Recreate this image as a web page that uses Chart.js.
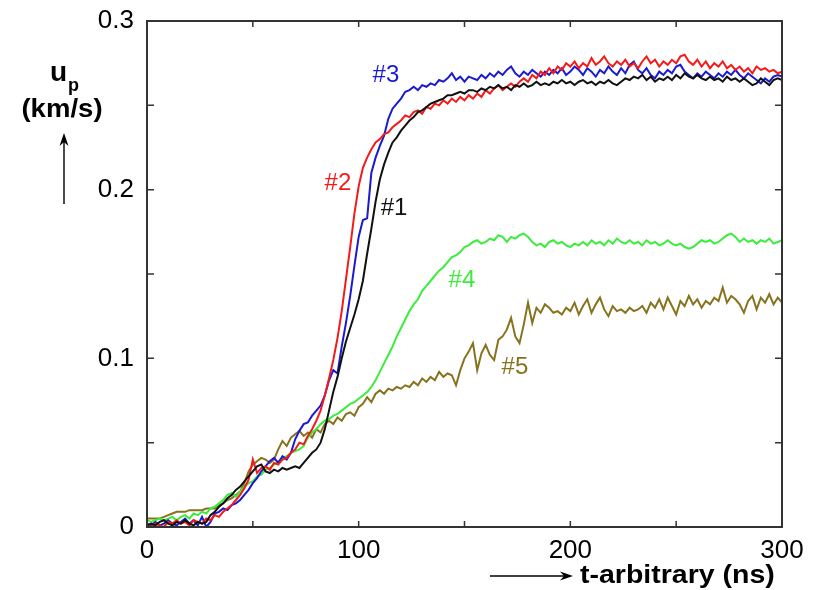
<!DOCTYPE html>
<html>
<head>
<meta charset="utf-8">
<script src="https://cdn.jsdelivr.net/npm/chart.js@4"></script>
<style>
  html, body { margin: 0; padding: 0; background: #fff; }
  #wrap { width: 816px; height: 590px; position: relative; }
</style>
</head>
<body>
<div id="wrap"><canvas id="chart" width="816" height="590"></canvas></div>
<script>
// sample times (ns), one sample every 2 ns
const times = Array.from({ length: 151 }, (_, i) => i * 2);

const xTicks = [0, 100, 200, 300];
const yTicks = [0, 0.1, 0.2, 0.3];

// #1 black
const shot1 = [
  0.001, 0.002, 0.001, 0.003, 0.004, 0.002, 0.001, 0.003, 0.002, 0.004, 0.002, 0.001, 0.003, 0.002, 0.003,
  0.007, 0.009, 0.012, 0.014, 0.017, 0.019, 0.022, 0.024, 0.027, 0.030, 0.033, 0.036, 0.037, 0.033, 0.032,
  0.034, 0.033, 0.035, 0.034, 0.035, 0.036, 0.035, 0.038, 0.041, 0.044, 0.046, 0.050, 0.058, 0.069, 0.080,
  0.089, 0.100, 0.110, 0.118, 0.126, 0.135, 0.146, 0.162, 0.177, 0.193, 0.206, 0.215, 0.222, 0.228, 0.231,
  0.235, 0.238, 0.241, 0.243, 0.246, 0.247, 0.249, 0.251, 0.252, 0.253, 0.254, 0.256, 0.256, 0.257, 0.258,
  0.257, 0.259, 0.259, 0.258, 0.260, 0.259, 0.261, 0.260, 0.262, 0.260, 0.261, 0.259, 0.262, 0.261, 0.263,
  0.261, 0.262, 0.264, 0.262, 0.263, 0.262, 0.264, 0.263, 0.265, 0.263, 0.264, 0.262, 0.264, 0.265, 0.263,
  0.264, 0.262, 0.264, 0.263, 0.265, 0.263, 0.262, 0.264, 0.266, 0.265, 0.267, 0.266, 0.268, 0.265, 0.267,
  0.264, 0.266, 0.265, 0.267, 0.265, 0.268, 0.266, 0.269, 0.267, 0.266, 0.268, 0.266, 0.265, 0.267, 0.265,
  0.266, 0.264, 0.267, 0.265, 0.266, 0.264, 0.266, 0.264, 0.262, 0.263, 0.266, 0.264, 0.262, 0.265, 0.266,
  0.265
];

// #2 red
const shot2 = [
  0.001, 0.000, 0.002, 0.001, 0.000, 0.003, 0.002, 0.004, 0.002, 0.003, 0.001, 0.004, 0.003, 0.002, 0.005,
  0.004, 0.007, 0.006, 0.009, 0.011, 0.013, 0.016, 0.019, 0.023, 0.028, 0.040, 0.032, 0.035, 0.036, 0.034,
  0.038, 0.037, 0.040, 0.041, 0.044, 0.046, 0.050, 0.049, 0.054, 0.058, 0.063, 0.069, 0.078, 0.088, 0.099,
  0.112, 0.128, 0.147, 0.166, 0.186, 0.202, 0.213, 0.219, 0.224, 0.228, 0.230, 0.233, 0.234, 0.237, 0.239,
  0.241, 0.244, 0.243, 0.246, 0.247, 0.245, 0.249, 0.248, 0.251, 0.250, 0.253, 0.251, 0.254, 0.252, 0.255,
  0.253, 0.256, 0.254, 0.257, 0.255, 0.259, 0.257, 0.260, 0.262, 0.259, 0.261, 0.263, 0.261, 0.264, 0.266,
  0.264, 0.268, 0.266, 0.270, 0.268, 0.272, 0.269, 0.273, 0.271, 0.275, 0.273, 0.276, 0.272, 0.275, 0.273,
  0.278, 0.274, 0.276, 0.279, 0.275, 0.273, 0.276, 0.274, 0.277, 0.273, 0.275, 0.272, 0.276, 0.279, 0.275,
  0.277, 0.273, 0.276, 0.274, 0.277, 0.275, 0.279, 0.280, 0.276, 0.274, 0.277, 0.273, 0.276, 0.272, 0.275,
  0.273, 0.276, 0.272, 0.274, 0.271, 0.273, 0.270, 0.272, 0.269, 0.273, 0.271, 0.272, 0.270, 0.271, 0.269,
  0.270
];

// #3 blue
const shot3 = [
  0.002, 0.001, 0.003, 0.001, 0.002, 0.004, 0.002, 0.001, 0.003, 0.005, 0.002, 0.004, 0.001, 0.006, 0.000,
  0.003, 0.008, 0.009, 0.011, 0.010, 0.013, 0.014, 0.016, 0.019, 0.022, 0.026, 0.029, 0.033, 0.036, 0.039,
  0.041, 0.038, 0.042, 0.040, 0.044, 0.052, 0.057, 0.061, 0.062, 0.066, 0.069, 0.072, 0.078, 0.087, 0.093,
  0.091, 0.107, 0.121, 0.137, 0.155, 0.172, 0.182, 0.183, 0.210, 0.219, 0.226, 0.232, 0.242, 0.248, 0.251,
  0.254, 0.258, 0.259, 0.261, 0.259, 0.262, 0.261, 0.263, 0.262, 0.265, 0.264, 0.266, 0.269, 0.265, 0.267,
  0.264, 0.267, 0.266, 0.265, 0.268, 0.266, 0.269, 0.267, 0.270, 0.268, 0.271, 0.273, 0.269, 0.267, 0.270,
  0.268, 0.271, 0.269, 0.267, 0.270, 0.268, 0.271, 0.269, 0.272, 0.268, 0.270, 0.273, 0.271, 0.268, 0.272,
  0.270, 0.267, 0.271, 0.269, 0.273, 0.270, 0.268, 0.272, 0.269, 0.274, 0.276, 0.271, 0.269, 0.272, 0.268,
  0.266, 0.270, 0.268, 0.271, 0.269, 0.273, 0.274, 0.270, 0.268, 0.266, 0.269, 0.267, 0.270, 0.268, 0.266,
  0.269, 0.267, 0.270, 0.268, 0.271, 0.268, 0.266, 0.269, 0.267, 0.265, 0.263, 0.266, 0.264, 0.267, 0.268,
  0.267
];

// #4 green
const shot4 = [
  0.004, 0.003, 0.004, 0.005, 0.004, 0.005, 0.006, 0.004, 0.006, 0.007, 0.005, 0.008, 0.007, 0.009, 0.008,
  0.011, 0.012, 0.014, 0.016, 0.019, 0.020, 0.018, 0.021, 0.024, 0.026, 0.027, 0.030, 0.031, 0.034, 0.035,
  0.037, 0.039, 0.041, 0.042, 0.044, 0.045, 0.046, 0.048, 0.053, 0.056, 0.058, 0.061, 0.063, 0.064, 0.066,
  0.067, 0.069, 0.071, 0.073, 0.074, 0.076, 0.078, 0.080, 0.083, 0.087, 0.092, 0.097, 0.102, 0.107, 0.113,
  0.118, 0.123, 0.128, 0.132, 0.135, 0.140, 0.143, 0.146, 0.149, 0.152, 0.154, 0.157, 0.160, 0.161, 0.163,
  0.166, 0.167, 0.169, 0.170, 0.168, 0.169, 0.171, 0.170, 0.173, 0.172, 0.169, 0.172, 0.171, 0.173, 0.174,
  0.172, 0.169, 0.167, 0.168, 0.166, 0.169, 0.170, 0.168, 0.169, 0.167, 0.166, 0.168, 0.167, 0.169, 0.167,
  0.170, 0.168, 0.169, 0.167, 0.170, 0.168, 0.171, 0.169, 0.168, 0.170, 0.168, 0.169, 0.167, 0.170, 0.168,
  0.169, 0.167, 0.168, 0.170, 0.168, 0.167, 0.168, 0.166, 0.165, 0.166, 0.168, 0.170, 0.169, 0.170, 0.168,
  0.169, 0.171, 0.173, 0.174, 0.172, 0.169, 0.171, 0.169, 0.170, 0.168, 0.170, 0.169, 0.171, 0.168, 0.169,
  0.170
];

// #5 olive
const shot5 = [
  0.005, 0.005, 0.005, 0.005, 0.006, 0.007, 0.008, 0.009, 0.009, 0.009, 0.010, 0.010, 0.010, 0.010, 0.011,
  0.011, 0.011, 0.013, 0.014, 0.016, 0.017, 0.019, 0.021, 0.026, 0.033, 0.037, 0.039, 0.041, 0.040, 0.038,
  0.040, 0.046, 0.051, 0.048, 0.053, 0.055, 0.057, 0.054, 0.056, 0.053, 0.058, 0.056, 0.061, 0.063, 0.061,
  0.065, 0.063, 0.067, 0.068, 0.066, 0.071, 0.073, 0.077, 0.074, 0.079, 0.081, 0.079, 0.082, 0.081, 0.083,
  0.082, 0.084, 0.083, 0.086, 0.084, 0.088, 0.086, 0.089, 0.087, 0.092, 0.089, 0.091, 0.090, 0.084, 0.093,
  0.100, 0.104, 0.109, 0.093, 0.103, 0.108, 0.102, 0.099, 0.111, 0.113, 0.117, 0.124, 0.113, 0.109, 0.120,
  0.133, 0.121, 0.130, 0.127, 0.132, 0.130, 0.127, 0.128, 0.126, 0.130, 0.128, 0.133, 0.126, 0.131, 0.135,
  0.127, 0.132, 0.136, 0.129, 0.125, 0.131, 0.128, 0.129, 0.127, 0.130, 0.128, 0.129, 0.131, 0.127, 0.133,
  0.130, 0.135, 0.129, 0.136, 0.131, 0.126, 0.134, 0.131, 0.137, 0.132, 0.135, 0.130, 0.134, 0.132, 0.136,
  0.134, 0.142, 0.133, 0.137, 0.135, 0.132, 0.127, 0.134, 0.137, 0.129, 0.136, 0.133, 0.138, 0.132, 0.136,
  0.133
];

const shots = [
  { name: "#1", values: shot1, color: "#111111", at: [116.7, 0.189] },
  { name: "#2", values: shot2, color: "#f51a1a", at: [90.2, 0.2036] },
  { name: "#3", values: shot3, color: "#1a1ad2", at: [112.9, 0.2675] },
  { name: "#4", values: shot4, color: "#3cec3c", at: [148.8, 0.146] },
  { name: "#5", values: shot5, color: "#87721e", at: [173.8, 0.0947] },
];

const FONT = "'Liberation Sans', Arial, Helvetica, sans-serif";

// frame, inward ticks, curve names, axis titles with arrows
const decorPlugin = {
  id: "decor",
  afterDraw(chart) {
    const ctx = chart.ctx;
    const xs = chart.scales.x;
    const ys = chart.scales.y;
    const a = chart.chartArea;
    ctx.save();
    ctx.strokeStyle = "#333";
    ctx.lineWidth = 2;
    ctx.strokeRect(a.left, a.top, a.right - a.left, a.bottom - a.top);

    ctx.lineWidth = 1.5;
    ctx.beginPath();
    for (let v = 50; v < 300; v += 50) {
      const px = xs.getPixelForValue(v);
      ctx.moveTo(px, a.bottom); ctx.lineTo(px, a.bottom - 6);
      ctx.moveTo(px, a.top); ctx.lineTo(px, a.top + 6);
    }
    for (let v = 0.05; v < 0.3; v += 0.05) {
      const py = ys.getPixelForValue(v);
      ctx.moveTo(a.left, py); ctx.lineTo(a.left + 7, py);
      ctx.moveTo(a.right, py); ctx.lineTo(a.right - 7, py);
    }
    ctx.stroke();

    // curve names
    ctx.font = "24px " + FONT;
    ctx.textAlign = "center";
    ctx.textBaseline = "middle";
    shots.forEach((s) => {
      ctx.fillStyle = s.color;
      ctx.fillText(s.name, xs.getPixelForValue(s.at[0]), ys.getPixelForValue(s.at[1]));
    });

    // y title
    ctx.fillStyle = "#000";
    ctx.textAlign = "left";
    ctx.textBaseline = "alphabetic";
    ctx.font = "bold 28px " + FONT;
    ctx.fillText("u", 50, 81);
    ctx.font = "bold 18px " + FONT;
    ctx.fillText("p", 68, 91);
    ctx.font = "bold 26px " + FONT;
    ctx.save();
    ctx.translate(62, 117);
    ctx.scale(1.06, 1);
    ctx.textAlign = "center";
    ctx.fillText("(km/s)", 0, 0);
    ctx.restore();

    // x title
    ctx.save();
    ctx.translate(580, 583);
    ctx.scale(1.14, 1);
    ctx.textAlign = "left";
    ctx.font = "bold 25px " + FONT;
    ctx.fillText("t-arbitrary (ns)", 0, 0);
    ctx.restore();

    // arrows
    ctx.strokeStyle = "#000";
    ctx.fillStyle = "#000";
    ctx.lineWidth = 1.4;
    ctx.beginPath();
    ctx.moveTo(64, 204); ctx.lineTo(64, 138);
    ctx.moveTo(490, 576); ctx.lineTo(567, 576);
    ctx.stroke();
    ctx.beginPath();
    ctx.moveTo(64, 133); ctx.lineTo(59.5, 146); ctx.lineTo(64, 142); ctx.lineTo(68.5, 146); ctx.closePath();
    ctx.fill();
    ctx.beginPath();
    ctx.moveTo(573, 576); ctx.lineTo(560, 571.5); ctx.lineTo(564, 576); ctx.lineTo(560, 580.5); ctx.closePath();
    ctx.fill();
    ctx.restore();
  },
};

new Chart(document.getElementById("chart"), {
  type: "line",
  plugins: [decorPlugin],
  data: {
    datasets: shots.map((s) => ({
      label: s.name,
      data: s.values.map((v, i) => ({ x: times[i], y: v })),
      borderColor: s.color,
      borderWidth: 2,
      pointRadius: 0,
      tension: 0,
      fill: false,
    })),
  },
  options: {
    responsive: false,
    animation: false,
    layout: { padding: { left: 0, top: 21, right: 34, bottom: 0 } },
    plugins: {
      legend: { display: false },
      tooltip: { enabled: false },
    },
    scales: {
      x: {
        type: "linear",
        min: 0,
        max: 300,
        grid: { display: false },
        border: { display: false },
        afterFit(scale) { scale.height = 63; },
        afterBuildTicks(scale) { scale.ticks = xTicks.map((v) => ({ value: v })); },
        ticks: {
          padding: 0,
          color: "#000",
          font: { family: FONT, size: 26 },
          maxRotation: 0,
          callback: (v) => String(v),
        },
      },
      y: {
        min: 0,
        max: 0.3,
        grid: { display: false },
        border: { display: false },
        afterFit(scale) { scale.width = 147; },
        afterBuildTicks(scale) { scale.ticks = yTicks.map((v) => ({ value: v })); },
        ticks: {
          padding: 5,
          color: "#000",
          font: { family: FONT, size: 26 },
          callback: (v) => (v === 0 ? "0" : v.toFixed(1)),
        },
      },
    },
  },
});
</script>
</body>
</html>
